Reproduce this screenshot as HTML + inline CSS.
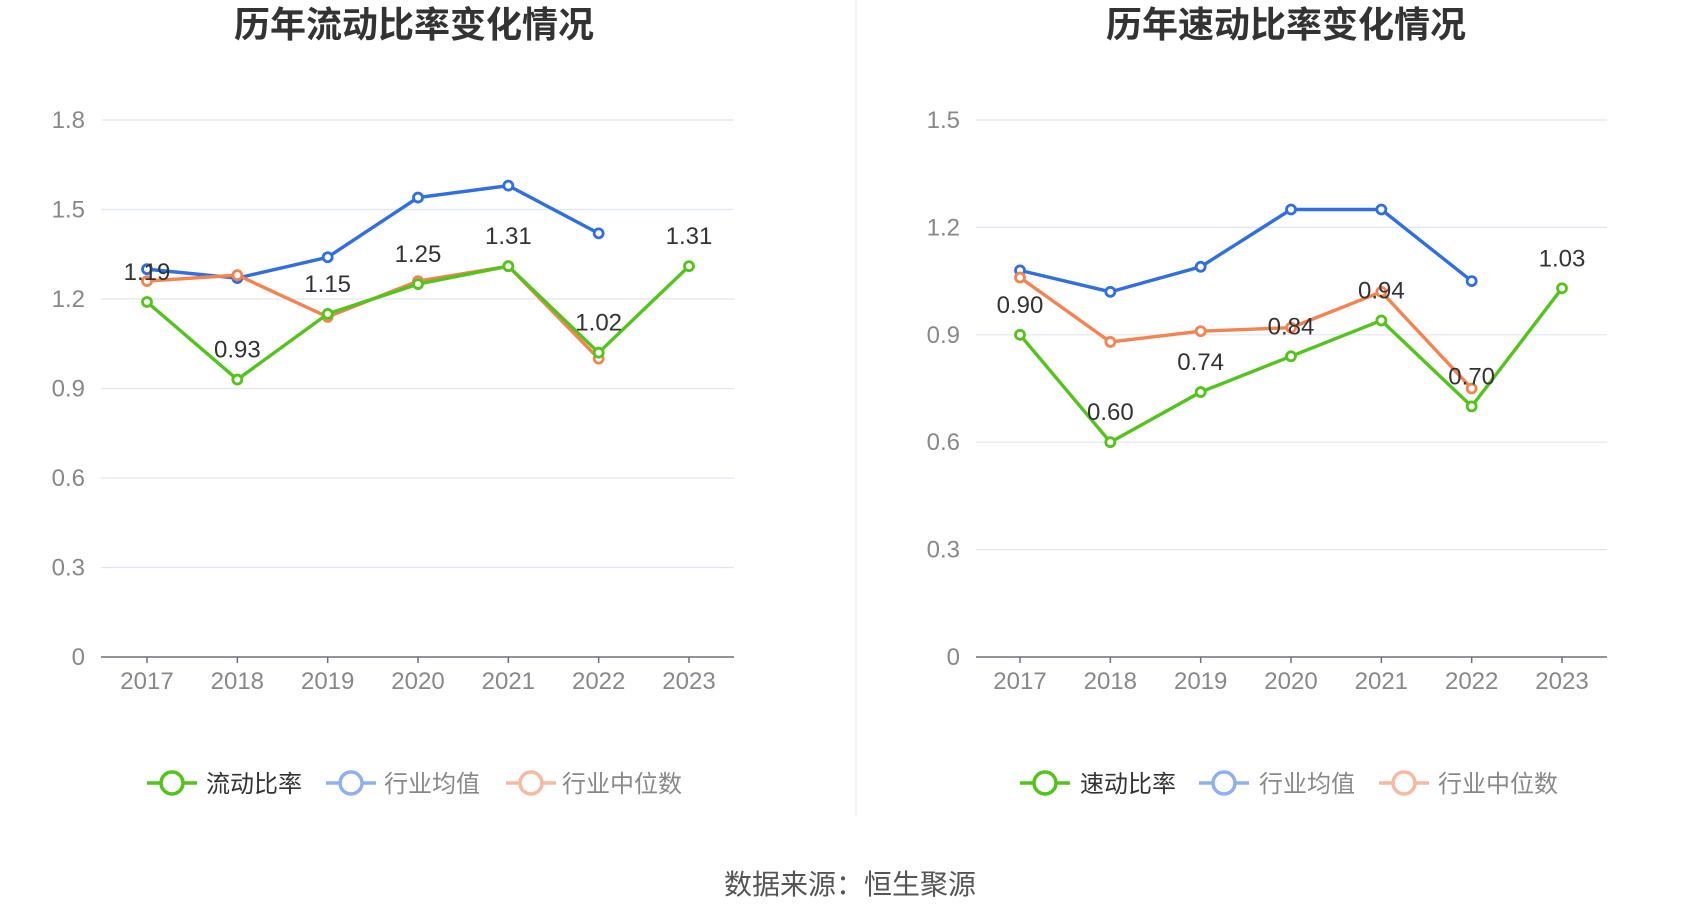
<!DOCTYPE html>
<html><head><meta charset="utf-8">
<style>
body{margin:0;background:#fff;width:1700px;height:918px;overflow:hidden;font-family:"Liberation Sans","Noto Sans CJK SC",sans-serif;}
svg text{font-family:"Liberation Sans","Noto Sans CJK SC",sans-serif;}
</style></head>
<body>
<svg id="svg" width="1700" height="918" xmlns="http://www.w3.org/2000/svg">
<line x1="856" y1="0" x2="856" y2="817" stroke="#eeeeee" stroke-width="1"/>
<text x="850" y="894" text-anchor="middle" font-size="28" fill="#555">数据来源：恒生聚源</text>
</svg>
<script>
const years=['2017','2018','2019','2020','2021','2022','2023'];
const currentRatio=[1.19,0.93,1.15,1.25,1.31,1.02,1.31];
const currentAvg=[1.30,1.27,1.34,1.54,1.58,1.42,null];
const currentMedian=[1.26,1.28,1.14,1.26,1.31,1.00,null];
const quickRatio=[0.90,0.60,0.74,0.84,0.94,0.70,1.03];
const quickAvg=[1.08,1.02,1.09,1.25,1.25,1.05,null];
const quickMedian=[1.06,0.88,0.91,0.92,1.02,0.75,null];
const leftTicks=[0,0.3,0.6,0.9,1.2,1.5,1.8];
const rightTicks=[0,0.3,0.6,0.9,1.2,1.5];

const NS='http://www.w3.org/2000/svg';
const svg=document.getElementById('svg');
function mk(tag,attrs,parent){const e=document.createElementNS(NS,tag);for(const k in attrs)e.setAttribute(k,attrs[k]);(parent||svg).appendChild(e);return e;}

function drawChart(cfg){
  const g=mk('g',{});
  
  
  const yMax=cfg.ticks[cfg.ticks.length-1];
  const y=v=>cfg.y0-(v/yMax)*(cfg.y0-cfg.yTop);
  const x=i=>cfg.x0+i*(cfg.x1-cfg.x0)/(years.length-1);
  const t=mk('text',{x:cfg.titleX,y:37,'text-anchor':'middle','font-size':36,'font-weight':'bold',fill:'#333'},g);
  t.textContent=cfg.title;
  
  
  cfg.ticks.forEach(v=>{
    if(v>0){const l=mk('line',{x1:cfg.gx0,x2:cfg.gx1,y1:y(v),y2:y(v),stroke:'#e0e6f1','stroke-width':1.2},g);
    
    }
    const tt=mk('text',{x:cfg.gx0-16,y:y(v)+8,'text-anchor':'end','font-size':24,fill:'#888'},g);
    tt.textContent=String(v);
    
    
  });
  const ax=mk('line',{x1:cfg.gx0,x2:cfg.gx1,y1:cfg.y0,y2:cfg.y0,stroke:'#6e7079','stroke-width':1.5},g);
  
  
  years.forEach((yr,i)=>{
    mk('line',{x1:x(i),x2:x(i),y1:cfg.y0,y2:cfg.y0+6,stroke:'#6e7079','stroke-width':1.5},g);
    const tx=mk('text',{x:x(i),y:cfg.y0+32,'text-anchor':'middle','font-size':24,fill:'#888'},g);
    tx.textContent=yr;
    
    
  });
  const series=[[cfg.avg,'#2f6ee3','industry-average-line'],[cfg.med,'#f5834f','industry-median-line'],[cfg.main,'#52c41a','main-ratio-line']];
  series.forEach(([arr,col,nm])=>{
    let d='';arr.forEach((v,i)=>{if(v!=null)d+=(d?'L':'M')+x(i)+','+y(v);});
    const p=mk('path',{d,fill:'none',stroke:col,'stroke-width':3.4},g);
    
    
    arr.forEach((v,i)=>{if(v==null)return;
      const c=mk('circle',{cx:x(i),cy:y(v),r:4.5,fill:'#fff',stroke:col,'stroke-width':2.8},g);
      
      });
  });
  cfg.main.forEach((v,i)=>{
    const lt=mk('text',{x:x(i),y:y(v)-22,'text-anchor':'middle','font-size':24,fill:'#333'},g);
    lt.textContent=v.toFixed(2);
    
    
  });
  const items=[[cfg.mainName,'#52c41a','#333'],['行业均值','#8fb0f0','#888'],['行业中位数','#f9b9a0','#888']];
  items.forEach(([nm,col,tc],k)=>{
    const lx=cfg.legX[k];
    const lg=mk('g',{},g);
    
    
    mk('line',{x1:lx,x2:lx+50,y1:783,y2:783,stroke:col,'stroke-width':3.5},lg);
    mk('circle',{cx:lx+25,cy:783,r:11,fill:'#fff',stroke:col,'stroke-width':3.5},lg);
    const lt=mk('text',{x:cfg.legT[k],y:792,'font-size':24,fill:tc},lg);
    lt.textContent=nm;
  });
}
drawChart({name:'current-ratio-chart',title:'历年流动比率变化情况',titleX:414,ticks:leftTicks,y0:657,yTop:120,x0:147,x1:689,gx0:101,gx1:734,
  main:currentRatio,avg:currentAvg,med:currentMedian,mainName:'流动比率',legX:[147,326,506],legT:[206,384,562]});
drawChart({name:'quick-ratio-chart',title:'历年速动比率变化情况',titleX:1286,ticks:rightTicks,y0:657,yTop:120,x0:1020,x1:1562,gx0:976,gx1:1607,
  main:quickRatio,avg:quickAvg,med:quickMedian,mainName:'速动比率',legX:[1020,1199,1379],legT:[1080,1259,1438]});
</script>
</body></html>
